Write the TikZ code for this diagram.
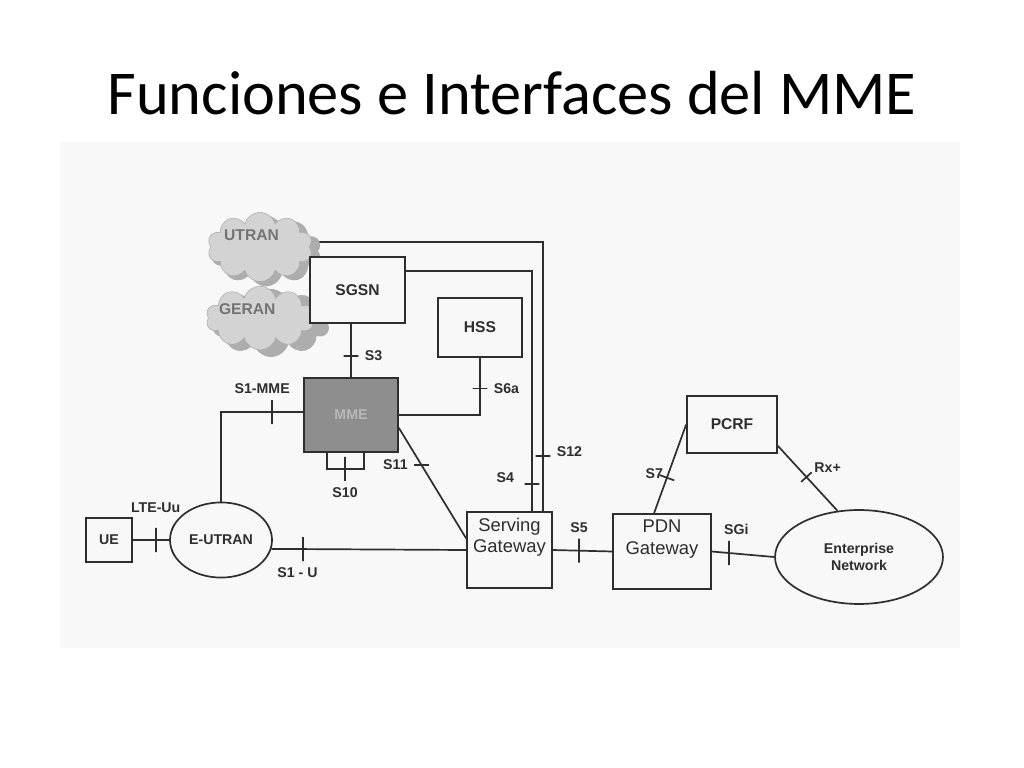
\documentclass[tikz,border=0pt]{standalone}
\usepackage{fontspec}
\setmainfont{Liberation Sans}
\newfontfamily\titlefont{Carlito}
\usetikzlibrary{shapes.geometric, shapes.symbols, backgrounds}
\definecolor{ScanGray}{HTML}{F8F8F8}
\definecolor{LineGray}{HTML}{2E2E2E}
\definecolor{MmeGray}{HTML}{8E8E8E}
\definecolor{CloudLight}{HTML}{D3D3D3}
\definecolor{CloudDark}{HTML}{ADADAD}

\begin{document}
\begin{tikzpicture}[
    x=0.7056pt, y=-0.7056pt,
    every node/.style={font=\bfseries\fontsize{10}{12}\selectfont, text=LineGray},
    wire/.style={draw=LineGray, line width=1.2pt},
    box/.style={wire, rectangle, inner sep=0pt, fill=ScanGray},
    oval/.style={wire, ellipse, inner sep=0pt, fill=ScanGray},
    cloudfg/.style={cloud, cloud puffs=10, cloud ignores aspect, fill=CloudLight,
      draw=CloudDark, inner sep=0pt, text=black!55},
    cloudbg/.style={cloud, cloud puffs=10, cloud ignores aspect, fill=CloudDark, inner sep=0pt},
    vtick/.style={wire, inner sep=0pt, minimum width=0pt, minimum height=17pt},
    htick/.style={wire, inner sep=0pt, minimum height=0pt, minimum width=10.5pt},
    gwtext/.style={font=\fontsize{13}{15}\selectfont, align=center},
    big/.style={font=\bfseries\fontsize{11}{13}\selectfont}
  ]
  \useasboundingbox (0,0) rectangle (1024,768);

  \node[font=\titlefont\fontsize{44}{52}\selectfont, text=black, anchor=base] (title) at (512,115) {Funciones e Interfaces del MME};

  % access networks
  \node[cloudbg, minimum width=78pt, minimum height=50pt] (utranb) at (266,251) {};
  \node[cloudfg, minimum width=74pt, minimum height=49pt,
    label={[xshift=-6pt, yshift=8pt, text=black!55, big]center:UTRAN}] (utran) at (260,247) {};
  \node[cloudbg, minimum width=83pt, minimum height=48pt] (geranb) at (271,323) {};
  \node[cloudfg, minimum width=76pt, minimum height=45pt,
    label={[xshift=-9pt, yshift=6pt, text=black!55, big]center:GERAN}] (geran) at (260,318) {};

  % core nodes
  \node[box, big, minimum width=67pt, minimum height=46.6pt] (sgsn) at (357.5,290) {SGSN};
  \node[box, big, minimum width=59.3pt, minimum height=41.6pt] (hss) at (480,327.5) {HSS};
  \node[box, fill=MmeGray, minimum width=66.3pt, minimum height=52.2pt, text=black!28] (mme) at (351,415) {MME};
  \node[box, minimum width=32.5pt, minimum height=31pt] (ue) at (109,540) {UE};
  \node[oval, minimum width=72pt, minimum height=53pt] (eutran) at (221,540) {E-UTRAN};
  \node[box, minimum width=60pt, minimum height=53.6pt] (sgw) at (509.5,550) {};
  \node[gwtext] (sgwtext) at (509.5,537) {Serving\\Gateway};
  \node[box, minimum width=69.1pt, minimum height=52.9pt] (pdn) at (662,551.5) {};
  \node[gwtext] (pdntext) at (662,539) {PDN\\Gateway};
  \node[box, big, minimum width=63.5pt, minimum height=40.2pt] (pcrf) at (732,424.5) {PCRF};
  \node[oval, minimum width=118.5pt, minimum height=66.3pt, align=center] (ent) at (859,557) {Enterprise\\Network};

  \begin{scope}[on background layer]
    \fill[ScanGray] (60,142) rectangle (960,648);
    % interfaces
    \draw[wire] ([yshift=3.5pt]utran.center) -| ([xshift=23.6pt]sgw.north)
      node[htick, pos=0.898, label={[yshift=3pt]right:S12}] {};
    \draw[wire] ([yshift=13.4pt]sgsn.east) -| ([xshift=15.9pt]sgw.north)
      node[htick, pos=0.944, label={[xshift=-3pt, yshift=5pt]left:S4}] {};
    \draw[wire] (mme.north) -- (mme.north |- sgsn.south)
      node[htick, pos=0.4, label=right:S3] {};
    \draw[wire] (hss.south) |- (mme.east)
      node[htick, pos=0.267, label=right:S6a] {};
    \draw[wire] ([yshift=2pt]mme.west) -| (eutran.north)
      node[vtick, pos=0.189, label={[xshift=-7pt]above:S1-MME}] {};
    \draw[wire] ([xshift=-16.9pt]mme.south) -- ++(0,16) -| ([xshift=9.2pt]mme.south)
      node[vtick, pos=0.243, label=below:S10] {};
    \draw[wire] (mme.-15) -- (sgw.165)
      node[htick, pos=0.337, label=left:S11] {};
    \draw[wire] (ue) -- (eutran)
      node[vtick, pos=0.63, label={[yshift=6pt]above:LTE-Uu}] {};
    \draw[wire] (eutran.-10) -- (sgw.west)
      node[vtick, pos=0.163, label={[xshift=-4pt]below:S1 - U}] {};
    \draw[wire] (sgw.east) -- (pdn.west)
      node[vtick, pos=0.44, label=above:S5] {};
    \draw[wire] (pdn.east) -- (ent.west)
      node[vtick, pos=0.28, label={[xshift=5pt]above:SGi}] {};
    \draw[wire] ([xshift=-5.6pt]pdn.north) -- (pcrf.west)
      node[vtick, sloped, pos=0.4, minimum height=11pt] {}
      node[pos=0.45, left] {S7};
    \draw[wire] (pcrf.-25) -- (ent.115)
      node[vtick, sloped, pos=0.48, minimum height=10pt] {}
      node[pos=0.33, right=8pt] {Rx+};
  \end{scope}
\end{tikzpicture}
\end{document}
